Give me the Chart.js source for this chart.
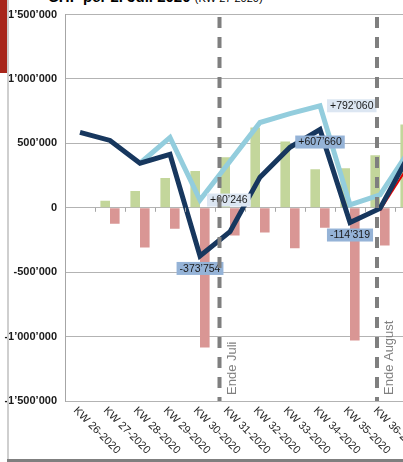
<!DOCTYPE html>
<html>
<head>
<meta charset="utf-8">
<title>KW 2020</title>
<script src="https://cdn.jsdelivr.net/npm/chart.js@4/dist/chart.umd.min.js"></script>
<style>
  html, body { margin: 0; padding: 0; width: 403px; height: 462px; overflow: hidden; background: #fff; }
  body { font-family: "Liberation Sans", Arial, sans-serif; }
  #wrap { position: absolute; left: 0; top: 0; width: 440px; height: 462px; }
  #redTab { position: absolute; left: 0; top: 0; width: 7px; height: 73px; background: #a8261b; }
  #sideLine { position: absolute; left: 7px; top: 0; width: 2px; height: 462px; background: #cfcfcf; }
  #bottomLine { position: absolute; left: 7px; top: 459px; width: 400px; height: 3px; background: #7f7f7f; }
  #title { position: absolute; left: 48px; top: -12px; font-weight: bold; font-size: 15px; white-space: nowrap; color: #000; }
  #title span { font-size: 11px; font-weight: normal; }
</style>
</head>
<body>
<div id="title">CHF per 2. Juli 2020 <span>(KW 27 2020)</span></div>
<div id="wrap"><canvas id="chartKW" width="440" height="462"></canvas></div>
<div id="redTab"></div>
<div id="sideLine"></div>
<div id="bottomLine"></div>
<script>
// Kategorien
const weeks = ["KW 26-2020", "KW 27-2020", "KW 28-2020", "KW 29-2020", "KW 30-2020", "KW 31-2020",
  "KW 32-2020", "KW 33-2020", "KW 34-2020", "KW 35-2020", "KW 36-2020", "KW 37-2020"];

// Balken
const zufluss = [null, 54000, 131000, 231000, 285000, 392000, 623000, 515000, 300000, 308000, 408000, 646000];
const abfluss = [null, -123000, -308000, -162000, -1085000, -215000, -192000, -315000, -154000, -1031000, -292000, null];

// Linien
const saldo = [585000, 523000, 346000, 415000, -373754, -185000, 238000, 470000, 607660, -114319, -5000, 423000];
const saldoHell = [null, null, 346000, 546000, 60246, 362000, 662000, 731000, 792060, 23000, 100000, 454000];
const saldoNeu = [null, null, null, null, null, null, null, null, null, null, -20000, 346000];

// y-Achse
const yTicks = [-1500000, -1000000, -500000, 0, 500000, 1000000, 1500000];

// Markierungen (Position als Kategorie-Index)
const markerNames = ["Ende Juli", "Ende August"];
const markerPos = [4.65, 9.9];

// Beschriftete Punkte: [dataset, index, lage]
const pointLabels = [[1, 4, "below"], [1, 8, "below"], [1, 9, "below"], [2, 4, "right"], [2, 8, "right"]];

const fmt = v => String(v).replace(/\B(?=(\d{3})+(?!\d))/g, "\u2019");
const fmtSigned = v => (v > 0 ? "+" : "") + fmt(v);

const extras = {
  id: "extras",
  afterDatasetsDraw(chart) {
    const ctx = chart.ctx;
    const xs = chart.scales.x;
    const ys = chart.scales.y;
    const area = chart.chartArea;
    const y0 = ys.getPixelForValue(0);

    // kleine Striche an der Nulllinie
    ctx.save();
    ctx.strokeStyle = "#a6a6a6";
    ctx.lineWidth = 1;
    const half = (xs.getPixelForTick(1) - xs.getPixelForTick(0)) / 2;
    weeks.forEach((w, i) => {
      const x = Math.round(xs.getPixelForTick(i) + half) + 0.5;
      ctx.beginPath();
      ctx.moveTo(x, y0);
      ctx.lineTo(x, y0 + 4);
      ctx.stroke();
    });
    ctx.restore();

    // Werte-Etiketten
    ctx.save();
    ctx.font = "10.5px 'Liberation Sans', Arial, sans-serif";
    ctx.textBaseline = "middle";
    pointLabels.forEach(([ds, idx, where]) => {
      const pt = chart.getDatasetMeta(ds).data[idx];
      const val = chart.data.datasets[ds].data[idx];
      const txt = fmtSigned(val);
      const w = ctx.measureText(txt).width + 6;
      const h = 13;
      let bx, by;
      if (where === "below") {
        bx = pt.x - w / 2;
        by = pt.y + 6;
      } else {
        bx = pt.x + 7;
        by = pt.y - h / 2;
      }
      ctx.fillStyle = ds === 1 ? "#95b3d7" : "#dce6f2";
      ctx.fillRect(bx, by, w, h);
      ctx.fillStyle = "#1a1a1a";
      ctx.textAlign = "left";
      ctx.fillText(txt, bx + 3, by + h / 2 + 0.5);
    });
    ctx.restore();

    // gestrichelte Monatsende-Linien
    ctx.save();
    markerPos.forEach((p, i) => {
      const x = xs.getPixelForValue(p);
      ctx.strokeStyle = "#7f7f7f";
      ctx.lineWidth = 4;
      ctx.setLineDash([11, 9]);
      ctx.beginPath();
      ctx.moveTo(x, 17);
      ctx.lineTo(x, area.bottom);
      ctx.stroke();
      ctx.save();
      ctx.translate(x + 6, area.bottom - 6);
      ctx.rotate(-Math.PI / 2);
      ctx.font = "13px 'Liberation Sans', Arial, sans-serif";
      ctx.fillStyle = "#808080";
      ctx.textAlign = "left";
      ctx.textBaseline = "top";
      ctx.fillText(markerNames[i], 0, 0);
      ctx.restore();
    });
    ctx.restore();
  },
  afterDraw(chart) {
    // schräge x-Beschriftung
    const ctx = chart.ctx;
    const xs = chart.scales.x;
    ctx.save();
    ctx.font = "11px 'Liberation Sans', Arial, sans-serif";
    ctx.fillStyle = "#262626";
    ctx.textAlign = "left";
    ctx.textBaseline = "top";
    weeks.forEach((w, i) => {
      ctx.save();
      ctx.translate(xs.getPixelForTick(i) - 1, chart.chartArea.bottom + 4);
      ctx.rotate(Math.PI / 4);
      ctx.fillText(w, 0, 0);
      ctx.restore();
    });
    ctx.restore();
  }
};

const dataKW = {
  labels: weeks,
  datasets: [
    {
      type: "line",
      label: "Saldo neu",
      data: saldoNeu,
      borderColor: "#e00000",
      borderWidth: 2,
      pointRadius: 0,
      tension: 0,
      order: 2
    },
    {
      type: "line",
      label: "Saldo",
      data: saldo,
      borderColor: "#17375e",
      borderWidth: 5,
      pointRadius: 0,
      tension: 0,
      order: 1
    },
    {
      type: "line",
      label: "Saldo Vergleich",
      data: saldoHell,
      borderColor: "#93cddd",
      borderWidth: 5,
      pointRadius: 0,
      tension: 0,
      order: 3
    },
    {
      label: "Zufluss",
      data: zufluss,
      backgroundColor: "#c3d69b",
      categoryPercentage: 0.64,
      barPercentage: 1,
      order: 4
    },
    {
      label: "Abfluss",
      data: abfluss,
      backgroundColor: "#d99694",
      categoryPercentage: 0.64,
      barPercentage: 1,
      order: 5
    }
  ]
};

const configKW = {
  type: "bar",
  data: dataKW,
  options: {
    responsive: false,
    animation: false,
    layout: { padding: { left: 0, right: 15, top: 13, bottom: 0 } },
    plugins: { legend: { display: false }, tooltip: { enabled: false } },
    scales: {
      x: {
        offset: true,
        grid: { display: false },
        border: { display: false },
        ticks: { display: false },
        afterFit: s => { s.height = 61; }
      },
      y: {
        min: -1500000,
        max: 1500000,
        afterBuildTicks: s => { s.ticks = yTicks.map(v => ({ value: v })); },
        afterFit: s => { s.width = 65; },
        grid: { color: "#b3b3b3", drawTicks: false },
        border: { color: "#a6a6a6" },
        ticks: {
          padding: 8,
          color: "#1a1a1a",
          font: { family: "'Liberation Sans', Arial, sans-serif", size: 11, weight: "bold" },
          callback: v => fmt(v)
        }
      }
    }
  },
  plugins: [extras]
};

var chartKW = new Chart(document.getElementById("chartKW"), configKW);
</script>
</body>
</html>
